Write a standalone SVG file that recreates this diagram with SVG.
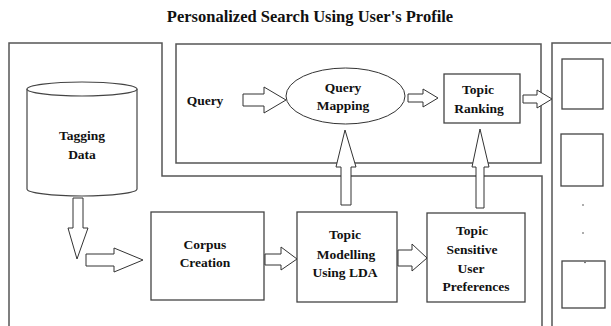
<svg xmlns="http://www.w3.org/2000/svg" width="611" height="326" viewBox="0 0 611 326">
<style>
.frame{fill:none;stroke:#555;stroke-width:1.5}
.box{fill:#fff;stroke:#444;stroke-width:1.3}
.arr{fill:#fff;stroke:#333;stroke-width:1}
.t{font-family:"Liberation Serif","Times New Roman",serif;font-weight:bold;font-size:13.5px;fill:#111;text-anchor:middle}
.title{font-family:"Liberation Serif","Times New Roman",serif;font-weight:bold;font-size:16.5px;fill:#111;text-anchor:middle}
</style>
<rect width="611" height="326" fill="#fff"/>
<text class="title" x="310" y="22">Personalized Search Using User's Profile</text>
<g id="frames">
<path class="frame" d="M9,326 V43 H162 V176 H542 V326"/>
<rect class="frame" x="176" y="44" width="365" height="119"/>
<path class="frame" d="M552,326 V43 H611"/>
</g>
<g id="tagging-data">
<path d="M27,89 V189 A55,7 0 0 0 137,189 V89" fill="#fff" stroke="#444" stroke-width="1.2"/>
<ellipse cx="82" cy="89" rx="55" ry="7" fill="#fff" stroke="#444" stroke-width="1.2"/>
<text class="t" x="82" y="140">Tagging</text>
<text class="t" x="82" y="159">Data</text>
</g>
<g id="query">
<text class="t" x="205" y="105">Query</text>
</g>
<g id="query-mapping">
<ellipse cx="345.5" cy="96" rx="59.5" ry="28" fill="#fff" stroke="#333" stroke-width="1"/>
<text class="t" x="343" y="92">Query</text>
<text class="t" x="343" y="110">Mapping</text>
</g>
<g id="topic-ranking">
<rect class="box" x="444" y="74" width="76" height="49"/>
<text class="t" x="478" y="94">Topic</text>
<text class="t" x="479" y="113">Ranking</text>
</g>
<g id="results">
<rect class="box" x="562" y="59" width="41" height="50"/>
<rect class="box" x="561" y="134" width="42" height="52"/>
<rect class="box" x="562" y="261" width="43" height="47"/>
<circle cx="583" cy="205" r="0.8" fill="#444"/>
<circle cx="583" cy="233" r="0.8" fill="#444"/>
<circle cx="585" cy="262.5" r="0.8" fill="#444"/>
</g>
<g id="corpus-creation">
<rect class="box" x="151" y="212" width="113" height="88"/>
<text class="t" x="205" y="249">Corpus</text>
<text class="t" x="205" y="267">Creation</text>
</g>
<g id="topic-modelling">
<rect class="box" x="297" y="212" width="100" height="90"/>
<text class="t" x="345" y="239">Topic</text>
<text class="t" x="346" y="259">Modelling</text>
<text class="t" x="345" y="277">Using LDA</text>
</g>
<g id="topic-sensitive">
<rect class="box" x="427" y="213" width="98" height="89"/>
<text class="t" x="472" y="235">Topic</text>
<text class="t" x="472" y="254">Sensitive</text>
<text class="t" x="471" y="273">User</text>
<text class="t" x="476" y="291">Preferences</text>
</g>
<g id="connectors">
<polygon class="arr" points="243,94 264,94 264,87 286,100 264,113 264,106 243,106"/>
<polygon class="arr" points="408,94 423,94 423,89 438,98 423,107 423,102 408,102"/>
<polygon class="arr" points="523,95 537,95 537,90 552,99 537,108 537,103 523,103"/>
<polygon class="arr" points="341,205 341,167 336,167 345,130 356,167 351,167 351,205"/>
<polygon class="arr" points="476,208 476,167 472,167 480,129 489,167 484,167 484,208"/>
<polygon class="arr" points="73,198 83,198 83,228 88,228 77,259 68,228 73,228"/>
<polygon class="arr" points="86,254 114,254 114,248 143,260 114,272 114,266 86,266"/>
<polygon class="arr" points="265,254 281,254 281,247 297,259 281,270 281,265 265,265"/>
<polygon class="arr" points="398,250 412,250 412,244 427,258 412,271 412,266 398,266"/>
</g>
</svg>
